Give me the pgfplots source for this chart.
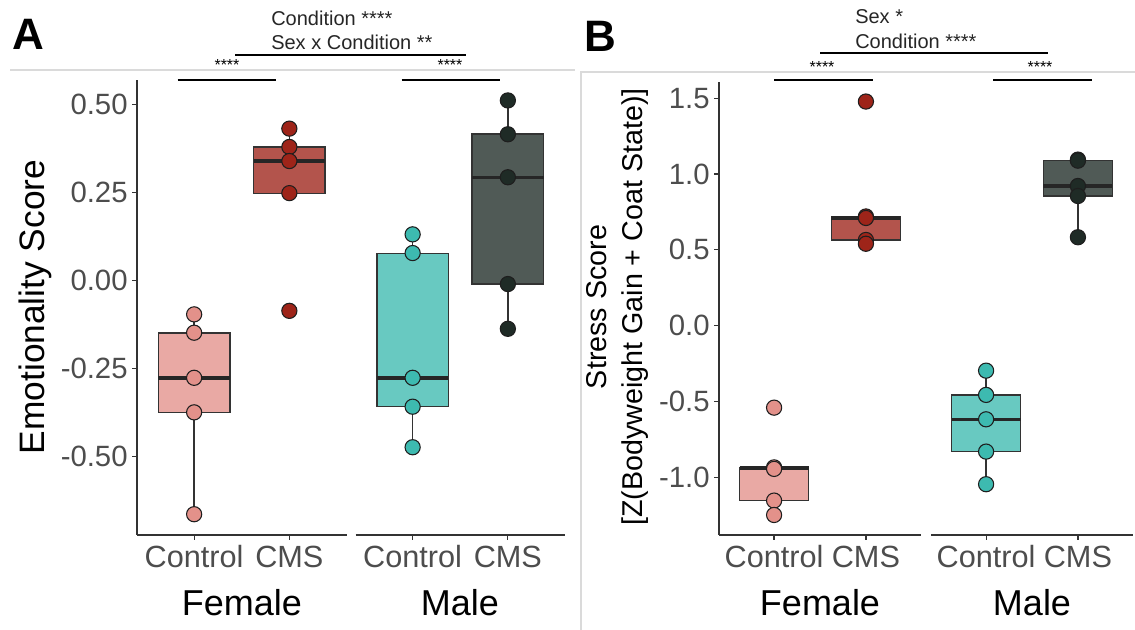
\documentclass[border=0pt]{standalone}
\usepackage{pgfplots}
\pgfplotsset{compat=1.18}
\usepgfplotslibrary{statistics}
\usepackage{fontspec}
\setmainfont{Liberation Sans}

\definecolor{fc}{HTML}{E3918A}
\definecolor{fcms}{HTML}{9E2419}
\definecolor{mc}{HTML}{3DBAB0}
\definecolor{mcms}{HTML}{1F2B26}
\definecolor{axgray}{HTML}{333333}
\definecolor{tickgray}{HTML}{4D4D4D}
\definecolor{framegray}{HTML}{DADADA}
\definecolor{ptline}{HTML}{1E1E1E}

\pgfplotsset{
  facet/.style={
    scale only axis, anchor=south west, clip=false,
    xmin=0.4, xmax=2.6, xtick={1,2}, xticklabels={Control,CMS},
    tick align=outside, major tick length=3.5pt,
    axis line style={draw=axgray, line width=1pt},
    every tick/.style={draw=axgray, line width=0.9pt},
    x tick label style={font=\fontsize{23}{27}\selectfont, text=tickgray, yshift=-1pt},
    y tick label style={font=\fontsize{22}{26}\selectfont, text=tickgray},
    boxplot/draw direction=y,
    boxplot/every box/.style={draw=axgray, line width=1.2pt},
    boxplot/every whisker/.style={draw=axgray, line width=1.1pt},
    boxplot/every median/.style={draw=black!85, line width=2.6pt},
  },
  leftfacet/.style={facet, axis x line*=bottom, axis y line*=left},
  rightfacet/.style={facet, axis x line*=bottom, axis y line=none},
  pts/.style={only marks, mark=*, mark size=5.7pt, mark options={fill=#1, draw=ptline, line width=0.8pt}},
  bx/.style={fill=#1, fill opacity=0.78, draw=axgray},
}

\begin{document}
\begin{tikzpicture}
\useasboundingbox (0,0) rectangle (851.25pt,472.5pt);

% ---------- Panel A: Female ----------
\begin{axis}[leftfacet, at={(102.75pt,71.25pt)}, width=157.125pt, height=341.25pt,
  ymin=-0.722, ymax=0.569, ytick={-0.5,-0.25,0,0.25,0.5},
  yticklabels={-0.50,-0.25,0.00,0.25,0.50}]
\addplot[pts=fc] coordinates {(1,-0.096) (1,-0.148) (1,-0.276) (1,-0.374) (1,-0.663)};
\addplot[pts=fcms] coordinates {(2,0.431) (2,0.379) (2,0.339) (2,0.248) (2,-0.086)};
\addplot[bx=fc, boxplot prepared={draw position=1, box extend=0.75, whisker extend=0,
  lower whisker=-0.663, lower quartile=-0.374, median=-0.276, upper quartile=-0.149, upper whisker=-0.096}] coordinates {};
\addplot[bx=fcms, boxplot prepared={draw position=2, box extend=0.75, whisker extend=0,
  lower whisker=0.247, lower quartile=0.247, median=0.339, upper quartile=0.379, upper whisker=0.431}] coordinates {};
\end{axis}

% ---------- Panel A: Male ----------
\begin{axis}[rightfacet, at={(266.625pt,71.25pt)}, width=157.125pt, height=341.25pt,
  ymin=-0.722, ymax=0.569]
\addplot[pts=mc] coordinates {(1,0.131) (1,0.078) (1,-0.276) (1,-0.358) (1,-0.473)};
\addplot[pts=mcms] coordinates {(2,0.511) (2,0.415) (2,0.293) (2,-0.010) (2,-0.137)};
\addplot[bx=mc, boxplot prepared={draw position=1, box extend=0.75, whisker extend=0,
  lower whisker=-0.473, lower quartile=-0.357, median=-0.276, upper quartile=0.077, upper whisker=0.131}] coordinates {};
\addplot[bx=mcms, boxplot prepared={draw position=2, box extend=0.75, whisker extend=0,
  lower whisker=-0.137, lower quartile=-0.010, median=0.293, upper quartile=0.415, upper whisker=0.511}] coordinates {};
\end{axis}

% ---------- Panel B: Female ----------
\begin{axis}[leftfacet, at={(539.25pt,71.25pt)}, width=151.5pt, height=339.75pt,
  ymin=-1.381, ymax=1.607, ytick={-1,-0.5,0,0.5,1,1.5},
  yticklabels={-1.0,-0.5,0.0,0.5,1.0,1.5}]
\addplot[pts=fc] coordinates {(1,-0.541) (1,-0.935) (1,-0.945) (1,-1.154) (1,-1.249)};
\addplot[pts=fcms] coordinates {(2,1.478) (2,0.720) (2,0.710) (2,0.565) (2,0.540)};
\addplot[bx=fc, boxplot prepared={draw position=1, box extend=0.75, whisker extend=0,
  lower whisker=-1.249, lower quartile=-1.154, median=-0.940, upper quartile=-0.935, upper whisker=-0.935}] coordinates {};
\addplot[bx=fcms, boxplot prepared={draw position=2, box extend=0.75, whisker extend=0,
  lower whisker=0.540, lower quartile=0.565, median=0.710, upper quartile=0.720, upper whisker=0.720}] coordinates {};
\end{axis}

% ---------- Panel B: Male ----------
\begin{axis}[rightfacet, at={(698.25pt,71.25pt)}, width=151.5pt, height=339.75pt,
  ymin=-1.381, ymax=1.607]
\addplot[pts=mc] coordinates {(1,-0.297) (1,-0.457) (1,-0.618) (1,-0.831) (1,-1.046)};
\addplot[pts=mcms] coordinates {(2,1.095) (2,1.088) (2,0.921) (2,0.855) (2,0.583)};
\addplot[bx=mc, boxplot prepared={draw position=1, box extend=0.75, whisker extend=0,
  lower whisker=-1.046, lower quartile=-0.831, median=-0.618, upper quartile=-0.457, upper whisker=-0.297}] coordinates {};
\addplot[bx=mcms, boxplot prepared={draw position=2, box extend=0.75, whisker extend=0,
  lower whisker=0.583, lower quartile=0.855, median=0.921, upper quartile=1.088, upper whisker=1.095}] coordinates {};
\end{axis}

% ---------- frames ----------
\draw[framegray, line width=0.8pt] (7.5pt,420pt) -- (431.25pt,420pt);
\draw[framegray, line width=0.8pt] (435.75pt,0pt) -- (435.75pt,418.5pt) -- (851.25pt,418.5pt);

% ---------- panel letters ----------
\node[font=\fontsize{33}{36}\selectfont\bfseries] at (21pt,447pt) {A};
\node[font=\fontsize{33}{36}\selectfont\bfseries] at (450pt,445.5pt) {B};

% ---------- axis titles ----------
\node[rotate=90, font=\fontsize{26.5}{30}\selectfont] at (26.25pt,242.25pt) {Emotionality Score};
\node[rotate=90, align=center, font=\fontsize{21.5}{27}\selectfont] at (463pt,242.25pt) {Stress Score\\{[}Z(Bodyweight Gain + Coat State)]};
\node[font=\fontsize{27}{30}\selectfont] at (181.5pt,20.25pt) {Female};
\node[font=\fontsize{27}{30}\selectfont] at (345pt,20.25pt) {Male};
\node[font=\fontsize{27}{30}\selectfont] at (615pt,20.25pt) {Female};
\node[font=\fontsize{27}{30}\selectfont] at (774pt,20.25pt) {Male};

% ---------- significance annotations ----------
\node[anchor=west, inner sep=0pt, font=\fontsize{15}{18}\selectfont, text=black!85] at (203.25pt,459pt) {Condition ****};
\node[anchor=west, inner sep=0pt, font=\fontsize{15}{18}\selectfont, text=black!85] at (203.25pt,441pt) {Sex x Condition **};
\draw[black, line width=1.6pt] (176.25pt,431.25pt) -- (349.5pt,431.25pt);
\node[font=\fontsize{12}{14}\selectfont] at (170.25pt,424pt) {****};
\node[font=\fontsize{12}{14}\selectfont] at (337.5pt,424pt) {****};
\draw[black, line width=1.6pt] (133.3pt,412.5pt) -- (206.8pt,412.5pt);
\draw[black, line width=1.6pt] (301.3pt,412.5pt) -- (375pt,412.5pt);

\node[anchor=west, inner sep=0pt, font=\fontsize{15}{18}\selectfont, text=black!85] at (641.25pt,459.75pt) {Sex *};
\node[anchor=west, inner sep=0pt, font=\fontsize{15}{18}\selectfont, text=black!85] at (641.25pt,441.75pt) {Condition ****};
\draw[black, line width=1.6pt] (615pt,432.75pt) -- (786pt,432.75pt);
\node[font=\fontsize{12}{14}\selectfont] at (616.5pt,422.5pt) {****};
\node[font=\fontsize{12}{14}\selectfont] at (780pt,422.5pt) {****};
\draw[black, line width=1.6pt] (580.5pt,412.5pt) -- (654.5pt,412.5pt);
\draw[black, line width=1.6pt] (745pt,412.5pt) -- (818.8pt,412.5pt);
\end{tikzpicture}
\end{document}
